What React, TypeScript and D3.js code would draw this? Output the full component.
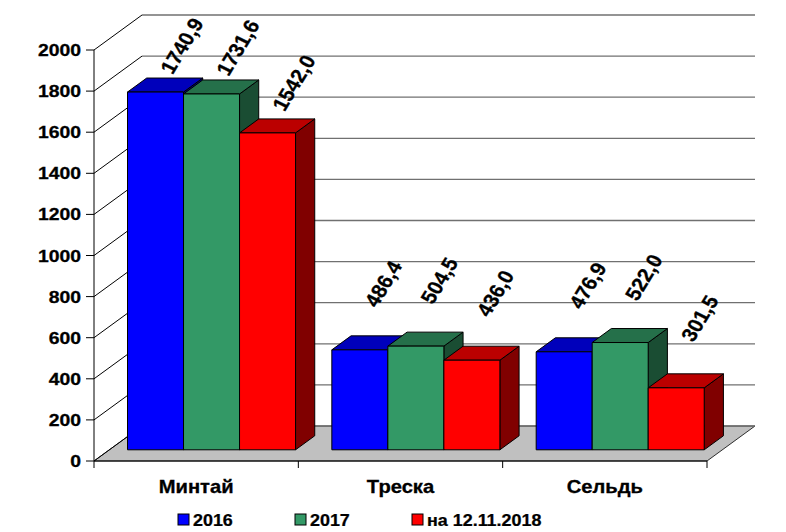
import React from "react";
import * as d3 from "d3";

const categories = ["Минтай", "Треска", "Сельдь"];
const seriesNames = ["2016", "2017", "на 12.11.2018"];
const values2016 = [1740.9, 486.4, 476.9];
const values2017 = [1731.6, 504.5, 522.0];
const values2018 = [1542.0, 436.0, 301.5];
const yTicks = [0, 200, 400, 600, 800, 1000, 1200, 1400, 1600, 1800, 2000];

const seriesValues = [values2016, values2017, values2018];
// front, top, side
const palette = [
  ["#0000FF", "#0000BB", "#000080"],
  ["#339966", "#25704A", "#1A4D33"],
  ["#FF0000", "#BB0000", "#800000"],
];

const W = 786;
const H = 532;
const font = "Arial, 'Liberation Sans', sans-serif";

// depth of the whole 3d box and where the bars sit inside it
const DX = 48;
const DY = -35;
const z0 = 0.32;
const z1 = 0.72;

const App = () => {
  const y = d3.scaleLinear().domain([0, 2000]).range([461, 50]);
  const x = d3.scaleBand().domain(categories).range([94, 707]);
  const xs = d3
    .scaleBand()
    .domain(seriesNames)
    .range([0, x.bandwidth()])
    .paddingInner(0)
    .paddingOuter(0.324);
  // label anchor scale (perspective in the original moves labels less than bars)
  const labelY = d3.scaleLinear().domain([0, 2000]).range([399, 27]);

  const [xa, xb] = x.range();
  const bw = xs.bandwidth();
  const bdx = DX * (z1 - z0);
  const bdy = DY * (z1 - z0);

  const pts = (p: number[][]) => p.map((d) => d.join(",")).join(" ");

  return (
    <svg
      width={W}
      height={H}
      style={{ position: "absolute", left: 0, top: 0, background: "#fff" }}
    >
      {/* floor */}
      <polygon
        points={pts([
          [xa, y(0)],
          [xb, y(0)],
          [xb + DX, y(0) + DY],
          [xa + DX, y(0) + DY],
        ])}
        fill="#C0C0C0"
        stroke="#000"
        strokeWidth={0.8}
      />
      {/* back wall grid */}
      {yTicks.map((t) => (
        <line
          key={"g" + t}
          x1={xa + DX}
          x2={xb + DX}
          y1={y(t) + DY}
          y2={y(t) + DY}
          stroke="#707070"
          strokeWidth={1.3}
        />
      ))}
      {/* left wall diagonals */}
      {yTicks.map((t) => (
        <line
          key={"d" + t}
          x1={xa}
          x2={xa + DX}
          y1={y(t)}
          y2={y(t) + DY}
          stroke="#000"
          strokeWidth={1}
        />
      ))}
      {/* y axis */}
      <line x1={xa} x2={xa} y1={y(0)} y2={y(2000)} stroke="#000" />
      {yTicks.map((t) => (
        <g key={"t" + t}>
          <line x1={xa - 8} x2={xa} y1={y(t)} y2={y(t)} stroke="#000" />
          <g transform={`translate(${xa - 13},${y(t) + 6}) scale(1.14,1)`}>
            <text
              textAnchor="end"
              fontFamily={font}
              fontWeight="bold"
              fontSize={17}
              stroke="#000"
              strokeWidth={0.3}
            >
              {t}
            </text>
          </g>
        </g>
      ))}
      {/* x axis */}
      <line x1={xa} x2={xb} y1={y(0)} y2={y(0)} stroke="#000" />
      {[...categories.map((c) => x(c)!), xb].map((v, i) => (
        <line key={"xt" + i} x1={v} x2={v} y1={y(0)} y2={y(0) + 7} stroke="#000" />
      ))}
      {categories.map((c) => (
        <g
          key={"c" + c}
          transform={`translate(${x(c)! + x.bandwidth() / 2},493) scale(1.12,1)`}
        >
          <text
            textAnchor="middle"
            fontFamily={font}
            fontWeight="bold"
            fontSize={18}
            stroke="#000"
            strokeWidth={0.3}
          >
            {c}
          </text>
        </g>
      ))}
      {/* bars */}
      {categories.map((c, ci) =>
        seriesNames.map((s, si) => {
          const v = seriesValues[si][ci];
          const left = x(c)! + xs(s)! + DX * z0;
          const right = left + bw;
          const top = y(v) + DY * z0;
          const bottom = y(0) + DY * z0;
          const [front, topC, side] = palette[si];
          return (
            <g key={c + s} stroke="#000" strokeWidth={1} strokeLinejoin="round">
              <polygon
                points={pts([
                  [right, top],
                  [right + bdx, top + bdy],
                  [right + bdx, bottom + bdy],
                  [right, bottom],
                ])}
                fill={side}
              />
              <polygon
                points={pts([
                  [left, top],
                  [right, top],
                  [right + bdx, top + bdy],
                  [left + bdx, top + bdy],
                ])}
                fill={topC}
              />
              <rect x={left} y={top} width={bw} height={bottom - top} fill={front} />
            </g>
          );
        })
      )}
      {/* value labels */}
      {categories.map((c, ci) =>
        seriesNames.map((s, si) => {
          const v = seriesValues[si][ci];
          const left = x(c)! + xs(s)! + DX * z0;
          const px = left + bw / 2 + 17;
          const py = labelY(v);
          return (
            <text
              key={"l" + c + s}
              transform={`translate(${px},${py}) scale(1.1,1) rotate(-61)`}
              fontFamily={font}
              fontWeight="bold"
              fontSize={19.5}
              fill="#000"
              stroke="#000"
              strokeWidth={0.3}
            >
              {v.toFixed(1).replace(".", ",")}
            </text>
          );
        })
      )}
      {/* legend */}
      {seriesNames.map((s, i) => {
        const lx = 178 + i * 117;
        return (
          <g key={"lg" + s}>
            <rect
              x={lx}
              y={514}
              width={11}
              height={11}
              fill={palette[i][0]}
              stroke="#000"
              strokeWidth={1}
            />
            <g transform={`translate(${lx + 15},525.5) scale(1.12,1)`}>
              <text
                fontFamily={font}
                fontWeight="bold"
                fontSize={16}
                stroke="#000"
                strokeWidth={0.25}
              >
                {s}
              </text>
            </g>
          </g>
        );
      })}
    </svg>
  );
};

export default App;
